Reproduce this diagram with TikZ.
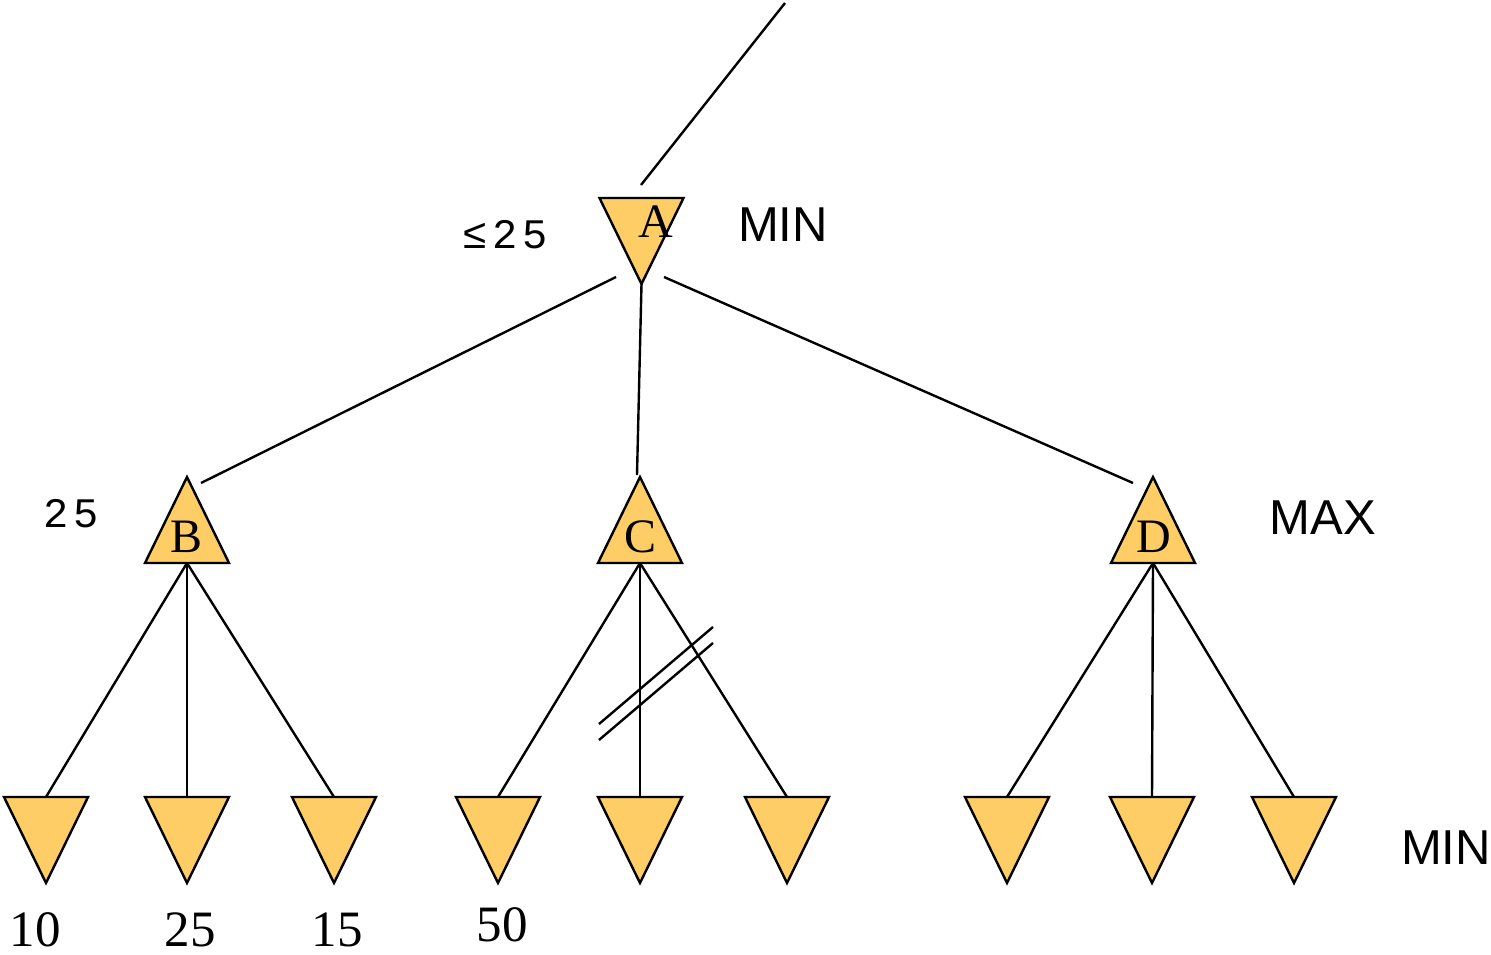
\documentclass[tikz,border=0pt]{standalone}
\usepackage{fontspec}
\setmainfont{Liberation Serif}
\newfontfamily\sansf{Liberation Sans}
\newfontfamily\monof[LetterSpace=12]{Liberation Mono}
\definecolor{trifill}{HTML}{FFCD66}
\begin{document}
\begin{tikzpicture}[x=1pt,y=-1pt,
  tri/.style={draw=black, fill=trifill, line width=2.4pt, line join=miter},
  edge/.style={draw=black, line width=2.4pt},
  cut/.style={draw=black, line width=2.4pt},
  letter/.style={font=\fontsize{48}{48}\selectfont, inner sep=0pt},
  leafval/.style={font=\fontsize{51}{51}\selectfont, inner sep=0pt, anchor=base, text depth=0pt},
  level/.style={font=\sansf\fontsize{49}{49}\selectfont, inner sep=0pt},
  bound/.style={font=\monof\fontsize{42}{42}\selectfont, inner sep=0pt},
  pics/uptri/.style={code={
    \path[tri] (0,0) -- (42,86) -- (-42,86) -- cycle;
    \coordinate (-top) at (0,0);
    \coordinate (-bot) at (0,86);}},
  pics/downtri/.style={code={
    \path[tri] (-42,0) -- (42,0) -- (0,86) -- cycle;
    \coordinate (-top) at (0,0);
    \coordinate (-bot) at (0,86);}}
]
\useasboundingbox (0,0) rectangle (1491,955);

\coordinate (root) at (785,3);
\coordinate (Atop) at (641,185);
\coordinate (Aleft) at (616,277);
\coordinate (Aright) at (664,277);
\coordinate (Bend) at (201,483);
\coordinate (Cend) at (637,475);
\coordinate (Dend) at (1133,483);

% triangles
\pic (A) at (641.5,198) {downtri};
\pic (B) at (187,477) {uptri};
\pic (C) at (640,477) {uptri};
\pic (D) at (1153,477) {uptri};

\pic (L1) at (46,797) {downtri};
\pic (L2) at (187,797) {downtri};
\pic (L3) at (334,797) {downtri};
\pic (L4) at (498,797) {downtri};
\pic (L5) at (640,797) {downtri};
\pic (L6) at (787,797) {downtri};
\pic (L7) at (1007,797) {downtri};
\pic (L8) at (1152,797) {downtri};
\pic (L9) at (1294,797) {downtri};

\draw[edge] (root) -- (Atop);
\draw[edge] (A-bot) -- (Cend);
\draw[edge] (Aleft) -- (Bend);
\draw[edge] (Aright) -- (Dend);

\draw[edge] (B-bot) -- (L1-top);
\draw[edge] (B-bot) -- (L2-top);
\draw[edge] (B-bot) -- (L3-top);
\draw[edge] (C-bot) -- (L4-top);
\draw[edge] (C-bot) -- (L5-top);
\draw[edge] (C-bot) -- (L6-top);
\draw[edge] (D-bot) -- (L7-top);
\draw[edge] (D-bot) -- (L8-top);
\draw[edge] (D-bot) -- (L9-top);

% cut marks
\coordinate (c1a) at (599,724); \coordinate (c1b) at (713,627);
\coordinate (c2a) at (599,740); \coordinate (c2b) at (713,643);
\draw[cut] (c1a) -- (c1b);
\draw[cut] (c2a) -- (c2b);

% labels
\node[letter] (Alab) at (656,222) {A};
\node[letter] (Blab) at (187,537) {B};
\node[letter] (Clab) at (640,537) {C};
\node[letter] (Dlab) at (1154,537) {D};

\node[level] (min1) at (783,225) {MIN};
\node[level] (max1) at (1323,518) {MAX};
\node[level] (min2) at (1446,848) {MIN};

\node[bound] (bA) at (505,235) {≤25};
\node[bound] (bB) at (71,514) {25};

\node[leafval] (v1) at (35,946) {10};
\node[leafval] (v2) at (190,946) {25};
\node[leafval] (v3) at (337,946) {15};
\node[leafval] (v4) at (502,941) {50};
\end{tikzpicture}
\end{document}
